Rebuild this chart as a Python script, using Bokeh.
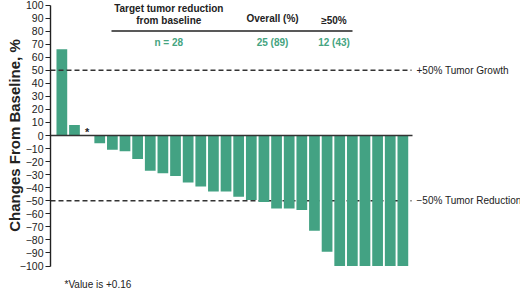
from bokeh.plotting import figure
from bokeh.models import Range1d, FixedTicker, ColumnDataSource, Title
from bokeh.core.properties import value
from bokeh.embed import file_html
from bokeh.resources import INLINE

# ---- data ----
patients = list(range(1, 29))
change_pct = [66, 8, 0.16, -6, -11, -12, -18, -27, -29, -31, -36, -39, -43, -43,
              -47, -49.5, -51, -56, -56, -57, -73, -89, -100, -100, -100, -100, -100, -100]
y_ticks = list(range(-100, 101, 10))
y_tick_labels = [("\u2212" + str(-t)) if t < 0 else str(t) for t in y_ticks]
y_title = "Changes From Baseline, %"
header_cols = ["Target tumor reduction\nfrom baseline", "Overall (%)", "\u226550%"]
row_values = ["n = 28", "25 (89)", "12 (43)"]
ref_lines = [50, -50]
ref_labels = ["+50% Tumor Growth", "\u221250% Tumor Reduction"]
footnote = "*Value is +0.16"

BAR = "#43a283"
GREEN_TXT = "#45a47f"
INK = "#222222"
FONT = "Liberation Sans"

# pixel -> data helpers for layout of annotations
def xd(px):
    return 1 + (px - 61.35) / 12.63

def yd(py):
    return (135.0 - py) / 1.305

FRAME_BOTTOM = 270

p = figure(width=520, height=297, output_backend="svg", toolbar_location=None,
           x_range=Range1d(xd(50), xd(520)), y_range=Range1d(yd(FRAME_BOTTOM), yd(0)),
           x_axis_type=None, min_border_left=50, min_border_right=0,
           min_border_top=0, min_border_bottom=297 - FRAME_BOTTOM)
p.outline_line_color = None
p.background_fill_color = "white"
p.border_fill_color = "white"
p.xgrid.visible = False
p.ygrid.visible = False

ax = p.yaxis[0]
ax.bounds = (-100, 100)
ax.ticker = FixedTicker(ticks=y_ticks)
ax.major_label_overrides = {t: lab for t, lab in zip(y_ticks, y_tick_labels)}
ax.minor_tick_line_color = None
ax.major_tick_in = 0
ax.major_tick_out = 5
ax.major_label_standoff = 2
ax.axis_line_color = INK
ax.axis_line_width = 1.4
ax.major_tick_line_color = INK
ax.major_tick_line_width = 1.2
ax.major_label_text_font = FONT
ax.major_label_text_font_size = "10.5px"
ax.major_label_text_color = INK
ax.axis_label = y_title
ax.axis_label_text_font = FONT
ax.axis_label_text_font_style = "bold"
ax.axis_label_text_font_size = "15px"
ax.axis_label_text_color = INK
ax.axis_label_standoff = -6

# footnote below the frame
p.add_layout(Title(text=footnote, align="left", offset=14, standoff=13,
                   text_font=FONT, text_font_style="normal", text_font_size="10px",
                   text_color=INK), "below")

# -50 reference line behind bars
x0, x1 = xd(50), xd(411)
p.line([x0, x1], [ref_lines[1]] * 2, line_color="#333333", line_width=1.3, line_dash="5 3")

src = ColumnDataSource(dict(x=patients, top=change_pct))
p.vbar(x="x", top="top", bottom=0, width=0.85, source=src, fill_color=BAR, line_color=None)

# zero line
p.line([x0, xd(412)], [0, 0], line_color="#333333", line_width=1.4)
# +50 reference line
p.line([x0, x1], [ref_lines[0]] * 2, line_color="#333333", line_width=1.3, line_dash="5 3")

p.text(x=[xd(416)] * 2, y=ref_lines, text=ref_labels, text_align="left",
       text_baseline="middle", text_font=value(FONT), text_font_size="10px",
       text_color=INK)

# asterisk above near-zero bar
p.text(x=[patients[2]], y=[change_pct[2]], text=["*"], text_align="center",
       text_baseline="middle", y_offset=-3, text_font=value(FONT),
       text_font_size="11px", text_font_style="bold", text_color=INK)

# table header
hx = [xd(168.3), xd(272), xd(333.5)]
p.text(x=[hx[0], hx[0]], y=[yd(7.5), yd(20)], text=header_cols[0].split("\n"),
       text_align="center", text_baseline="middle", text_font=value(FONT),
       text_font_size="10px", text_font_style="bold", text_color=INK)
p.text(x=[hx[1]], y=[yd(17.5)], text=[header_cols[1]], text_align="center",
       text_baseline="middle", text_font=value(FONT), text_font_size="10px",
       text_font_style="bold", text_color=INK)
p.text(x=[hx[2]], y=[yd(20)], text=[header_cols[2]], text_align="center",
       text_baseline="middle", text_font=value(FONT), text_font_size="10px",
       text_font_style="bold", text_color=INK)
p.line([xd(111), xd(352)], [yd(30.5)] * 2, line_color=INK, line_width=1.3)
p.text(x=hx, y=[yd(41.5)] * 3, text=row_values, text_align="center",
       text_baseline="middle", text_font=value(FONT), text_font_size="10px",
       text_font_style="bold", text_color=GREEN_TXT)

open("out.html", "w").write(file_html(p, INLINE))
